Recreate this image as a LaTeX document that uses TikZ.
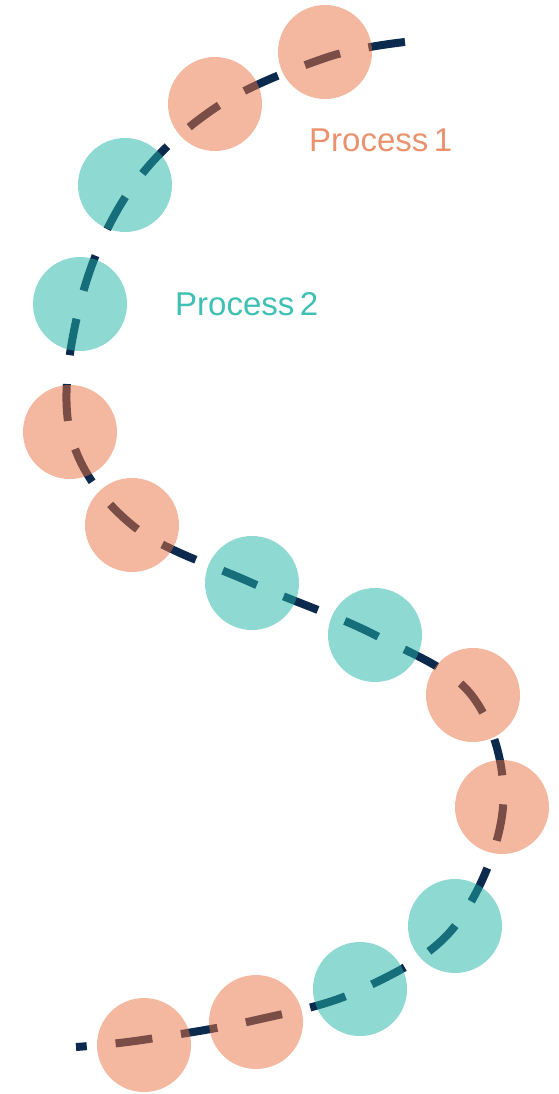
\documentclass[tikz,border=0pt]{standalone}
\usepackage{fontspec}
\setmainfont{Liberation Sans}
\definecolor{navy}{RGB}{12,42,78}
\definecolor{salmonbase}{RGB}{233,113,65}
\definecolor{tealbase}{RGB}{31,179,167}
\definecolor{salmontext}{RGB}{234,146,110}
\definecolor{tealtext}{RGB}{62,192,180}
\tikzset{
  pathline/.style={draw=navy, line width=8pt, dash pattern=on 37pt off 29pt},
  bead/.style={circle, minimum size=94pt, inner sep=0pt, fill opacity=0.5},
  beadA/.style={bead, fill=salmonbase},
  beadB/.style={bead, fill=tealbase},
  label/.style={anchor=base west, inner sep=0pt, font=\fontsize{33}{36}\selectfont}
}
\begin{document}
\begin{tikzpicture}[x=1pt,y=-1pt]
\useasboundingbox (0,0) rectangle (559,1094);
\coordinate (s) at (405,42);
\coordinate (p1) at (325,58);
\coordinate (p2) at (215,108);
\coordinate (p3) at (130,190);
\coordinate (p4) at (80,304);
\coordinate (p5) at (70,432);
\coordinate (p6) at (132,525);
\coordinate (p7) at (252,583);
\coordinate (p8) at (375,635);
\coordinate (p9) at (473,697);
\coordinate (p10) at (503,807);
\coordinate (p11) at (455,926);
\coordinate (p12) at (360,990);
\coordinate (p13) at (256,1020);
\coordinate (p14) at (142,1040);
\coordinate (e) at (76,1047);
\draw[pathline] plot[smooth, tension=0.6] coordinates {(s) (p1) (p2) (p3) (p4) (p5) (p6) (p7) (p8) (p9) (p10) (p11) (p12) (p13) (p14) (e)};
\node[beadA] (c1) at (325,52) {};
\node[beadA] (c2) at (215,104) {};
\node[beadB] (c3) at (125,185) {};
\node[beadB] (c4) at (80,304) {};
\node[beadA] (c5) at (70,432) {};
\node[beadA] (c6) at (132,525) {};
\node[beadB] (c7) at (252,583) {};
\node[beadB] (c8) at (375,635) {};
\node[beadA] (c9) at (473,695) {};
\node[beadA] (c10) at (502,807) {};
\node[beadB] (c11) at (455,926) {};
\node[beadB] (c12) at (360,989) {};
\node[beadA] (c13) at (256,1022) {};
\node[beadA] (c14) at (144,1045) {};
\node[label, text=salmontext] (t1) at (309,152) {Process\,1};
\node[label, text=tealtext] (t2) at (175,315) {Process\,2};
\end{tikzpicture}
\end{document}
